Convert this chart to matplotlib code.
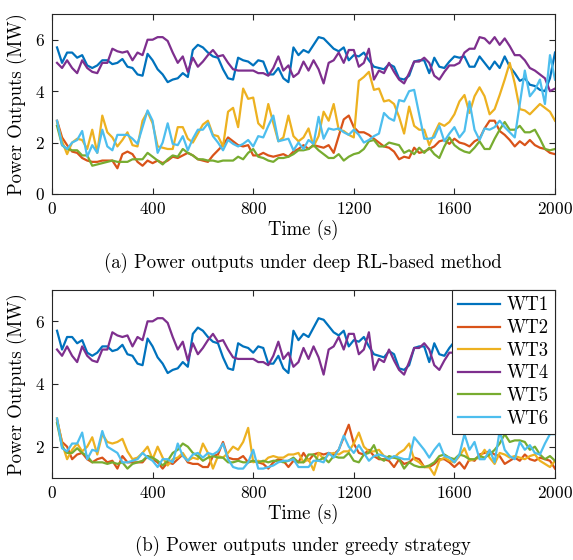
import numpy as np
import matplotlib
matplotlib.use("Agg")
import matplotlib.pyplot as plt

plt.rcParams['font.family'] = 'serif'
plt.rcParams['font.serif'] = ['cmr10', 'DejaVu Serif']
plt.rcParams['mathtext.fontset'] = 'cm'
plt.rcParams['axes.formatter.use_mathtext'] = True

time = np.arange(20, 2001, 20)

# ---- (a) deep RL-based method ----
wt1 = [5.7, 5.1, 5.5, 5.5, 5.3, 5.4, 5.0, 4.9, 5.0, 5.2, 5.2, 5.05, 5.1, 5.25, 4.95, 4.9, 4.65, 4.6, 5.45, 5.2,
       4.85, 4.65, 4.35, 4.45, 4.5, 4.7, 4.55, 5.6, 5.8, 5.7, 5.5, 5.35, 5.3, 4.85,
       4.5, 4.45, 5.3, 5.2, 5.15, 5.0, 5.2, 5.15, 4.65, 4.65, 4.9, 4.5, 4.35, 5.7, 5.4, 5.6,
       5.5, 5.8, 6.1, 6.05, 5.85, 5.65, 5.55, 5.7, 5.2, 5.4, 5.35, 5.5, 5.2, 4.95, 4.9, 4.85, 5.05,
       4.95, 4.5, 4.45, 4.6, 5.15, 5.2, 5.2, 4.7, 5.3, 4.95, 4.9, 5.15, 5.35, 5.3, 5.35, 4.95, 4.95, 5.35,
       5.1, 4.85, 5.15, 4.9, 5.35, 4.95, 4.7, 4.4, 4.5, 4.25, 4.2, 4.05, 4.0, 4.5, 5.5]
wt4 = [5.1, 4.9, 5.2, 4.9, 4.7, 5.2, 4.9, 4.75, 4.7, 5.1, 5.1, 5.65, 5.55, 5.5, 5.55, 5.2, 5.5, 5.4, 6.0, 6.0,
       6.1, 6.1, 5.95, 5.5, 5.1, 5.35, 4.75, 5.3, 4.95, 5.15, 5.4, 5.6, 5.35, 5.4,
       5.1, 4.85, 4.8, 4.8, 4.8, 4.8, 4.7, 4.7, 4.6, 4.9, 5.35, 4.8, 5.0, 4.55, 4.7, 5.15,
       4.8, 5.2, 4.85, 4.3, 5.1, 5.2, 5.5, 5.1, 5.6, 5.6, 4.95, 5.1, 5.65, 4.45, 4.8, 4.7, 5.1,
       4.75, 4.45, 4.3, 4.7, 5.15, 5.15, 5.3, 5.1, 4.6, 4.45, 4.75, 5.0, 5.0, 5.1, 5.5, 5.65, 5.65, 6.1,
       6.05, 5.85, 6.1, 5.8, 6.05, 5.75, 5.4, 5.4, 5.2, 4.9, 4.8, 4.65, 4.5, 4.0, 4.1]
wt2_a = [2.85, 2.2, 1.9, 1.65, 1.6, 1.4, 1.3, 1.25, 1.25, 1.3, 1.3, 1.3, 1.0, 1.55, 1.65, 1.55, 1.25, 1.1, 1.3, 1.2,
         1.3, 1.2, 1.3, 1.45, 1.4, 1.5, 1.6, 1.5, 1.35, 1.3, 1.25, 1.5, 1.7, 1.9,
         2.2, 2.05, 1.9, 1.85, 1.9, 1.5, 1.5, 1.6, 1.5, 1.45, 1.5, 1.55, 1.45, 1.65, 1.75, 1.9,
         1.75, 1.9, 1.85, 1.8, 1.9, 1.6, 2.25, 2.9, 3.05, 2.6, 2.4, 2.4, 2.3, 2.15, 2.0, 1.85, 1.8,
         1.65, 1.35, 1.45, 1.4, 1.8, 1.6, 1.65, 1.75, 1.85, 2.05, 2.1, 1.95, 2.15, 2.0, 1.95, 1.85, 2.05, 2.15,
         2.55, 2.85, 2.85, 2.45, 2.3, 2.1, 1.85, 2.05, 1.9, 2.1, 1.9, 1.8, 1.75, 1.6, 1.55]
wt3_a = [2.8, 2.05, 1.55, 2.0, 2.15, 2.1, 1.75, 2.5, 1.6, 3.05, 2.4, 2.2, 1.85, 2.1, 2.4, 1.9, 1.85, 2.85, 3.2, 2.75,
         1.85, 1.8, 1.75, 1.75, 2.6, 2.6, 2.15, 2.0, 2.35, 2.7, 2.85, 2.3, 2.25, 1.85,
         3.2, 3.35, 2.6, 4.1, 3.7, 3.75, 2.75, 2.55, 3.5, 2.75, 2.05, 2.2, 3.05, 2.25, 2.05, 2.2,
         2.55, 1.85, 2.25, 3.2, 2.85, 3.5, 2.5, 2.45, 2.3, 2.2, 4.4, 4.55, 4.75, 4.05, 4.1, 3.6, 3.65,
         3.5, 3.0, 2.35, 3.4, 2.65, 2.5, 2.5, 1.9, 2.35, 2.75, 2.65, 2.8, 3.1, 3.6, 3.85, 3.15, 3.8, 4.15,
         3.8, 3.1, 3.3, 3.85, 4.45, 5.1, 4.3, 3.3, 3.25, 3.1, 3.3, 3.5, 3.35, 3.2, 2.85]
wt5_a = [2.65, 1.9, 1.75, 1.7, 1.7, 1.5, 1.5, 1.1, 1.15, 1.2, 1.25, 1.3, 1.25, 1.25, 1.25, 1.35, 1.35, 1.35, 1.6, 1.45,
         1.3, 1.15, 1.35, 1.5, 1.45, 1.75, 1.6, 1.5, 1.35, 1.35, 1.3, 1.3, 1.25, 1.3,
         1.3, 1.3, 1.45, 1.35, 1.6, 1.75, 1.45, 1.4, 1.3, 1.25, 1.4, 1.4, 1.45, 1.55, 1.7, 1.7,
         1.75, 1.9, 1.7, 1.55, 1.4, 1.4, 1.55, 1.3, 1.45, 1.55, 1.6, 1.75, 2.05, 2.1, 1.85, 1.85, 2.0,
         1.95, 1.9, 1.6, 1.7, 1.55, 1.8, 1.6, 1.8, 1.55, 1.4, 1.85, 2.2, 1.9, 1.75, 1.65, 1.6, 1.8, 2.05,
         1.75, 1.75, 2.15, 2.5, 2.8, 2.5, 2.5, 2.65, 2.4, 2.4, 2.5, 2.15, 1.75, 1.7, 1.75]
wt6_a = [2.85, 1.9, 1.75, 2.0, 2.1, 2.45, 1.45, 1.9, 1.6, 2.5, 1.85, 1.7, 2.3, 2.3, 2.3, 2.15, 1.95, 2.6, 3.25, 2.85,
         1.6, 2.0, 2.75, 1.95, 1.9, 2.25, 1.7, 2.15, 2.5, 2.5, 2.75, 2.25, 2.0, 1.7,
         2.1, 1.95, 1.85, 1.95, 2.1, 1.85, 2.25, 2.2, 2.65, 3.05, 2.05, 2.1, 2.15, 1.7, 2.0, 1.75,
         2.1, 1.95, 3.0, 2.15, 2.55, 2.5, 2.55, 2.4, 2.3, 2.5, 2.3, 2.0, 2.1, 2.25, 2.35, 3.15, 2.95,
         2.85, 3.65, 3.6, 4.0, 4.05, 3.1, 2.15, 2.15, 2.2, 2.65, 2.05, 2.35, 2.6, 2.2, 2.45, 3.6, 2.5, 2.1,
         2.55, 2.5, 2.6, 2.85, 2.6, 2.4, 2.2, 3.5, 4.8, 3.8, 4.05, 4.45, 3.5, 5.4, 4.45]

# ---- (b) greedy strategy ----
wt2_b = [2.85, 2.15, 2.0, 1.6, 1.75, 1.8, 1.6, 1.5, 1.6, 1.65, 1.5, 1.55, 1.3, 1.7, 1.5, 1.5, 1.5, 1.5, 1.7, 1.6,
         1.5, 1.3, 1.5, 1.45, 1.6, 1.75, 1.5, 1.45, 1.45, 1.35, 1.35, 1.7, 1.75, 2.15,
         1.65, 1.6, 1.6, 1.7, 1.5, 1.55, 1.5, 1.45, 1.3, 1.5, 1.6, 1.55, 1.35, 1.55, 1.5, 1.8,
         1.55, 1.75, 1.8, 1.75, 1.8, 1.75, 1.9, 2.3, 2.7, 2.1, 1.8, 1.75, 1.9, 1.7, 1.6, 1.6, 1.55,
         1.35, 1.6, 1.45, 1.5, 1.65, 1.6, 1.35, 1.35, 1.45, 1.6, 1.6, 1.5, 1.35, 1.5, 1.3, 1.6, 1.55, 1.75,
         1.8, 1.85, 1.75, 1.7, 1.45, 1.55, 1.65, 1.55, 1.75, 1.6, 1.55, 1.65, 1.6, 1.55, 1.3]
wt3_b = [2.9, 2.1, 1.6, 1.9, 2.1, 1.85, 2.0, 2.3, 1.75, 2.4, 2.15, 2.1, 2.15, 2.25, 1.85, 1.6, 1.65, 1.8, 2.0, 1.6,
         2.0, 1.65, 1.4, 1.6, 1.65, 1.8, 1.55, 1.65, 1.6, 2.1, 1.8, 1.3, 1.7, 1.65,
         1.8, 2.0, 1.9, 2.15, 2.6, 1.5, 1.55, 1.5, 1.65, 1.7, 1.65, 1.65, 1.75, 1.75, 1.8, 1.5,
         1.6, 1.25, 1.8, 1.6, 1.75, 1.8, 1.75, 1.85, 1.85, 2.1, 2.45, 2.0, 1.85, 1.85, 1.9, 1.7, 1.65,
         1.65, 1.8, 1.9, 2.1, 1.6, 1.5, 1.35, 1.35, 1.1, 1.55, 1.65, 1.55, 1.5, 1.7, 1.95, 1.55, 1.6, 1.65,
         1.9, 1.65, 1.45, 1.8, 1.75, 1.65, 1.7, 1.65, 1.6, 1.7, 1.75, 1.55, 1.45, 1.35, 1.55]
wt5_b = [2.75, 2.0, 1.8, 1.8, 1.95, 1.8, 1.7, 1.5, 1.5, 1.5, 1.45, 1.5, 1.45, 1.5, 1.3, 1.45, 1.5, 1.55, 1.7, 1.65,
         1.55, 1.4, 1.55, 1.8, 1.9, 2.1, 2.0, 1.8, 1.7, 1.55, 1.65, 1.7, 1.65, 1.65,
         1.5, 1.5, 1.55, 1.5, 1.5, 1.55, 1.5, 1.55, 1.5, 1.55, 1.55, 1.5, 1.55, 1.65, 1.5, 1.5,
         1.75, 1.75, 1.55, 1.65, 1.5, 1.7, 1.65, 1.65, 1.8, 1.55, 1.5, 1.75, 1.8, 2.05, 1.65, 1.55, 1.7,
         1.65, 1.6, 1.3, 1.5, 1.4, 1.35, 1.35, 1.4, 1.5, 1.7, 1.75, 1.65, 1.6, 1.75, 1.7, 1.6, 1.6, 1.7,
         1.65, 1.75, 1.9, 2.1, 2.4, 2.15, 2.2, 2.2, 2.15, 1.9, 2.0, 1.75, 1.6, 1.7, 1.55]
wt6_b = [2.9, 1.95, 1.85, 2.1, 2.1, 2.45, 1.6, 1.9, 1.85, 2.5, 2.0, 1.9, 1.8, 1.5, 1.5, 1.55, 1.6, 1.8, 1.65, 1.55,
         1.35, 1.6, 1.6, 1.5, 2.1, 1.7, 1.55, 1.75, 1.8, 1.65, 1.8, 1.75, 1.85, 2.1,
         1.6, 1.35, 1.3, 1.3, 1.5, 1.9, 1.3, 1.3, 1.35, 1.4, 1.5, 1.55, 1.55, 1.6, 1.35, 1.35,
         1.35, 1.55, 1.55, 1.5, 1.8, 1.65, 1.9, 2.35, 2.0, 1.8, 2.05, 1.8, 1.55, 1.7, 1.75, 1.7, 1.6,
         1.7, 1.65, 1.6, 1.6, 2.3, 2.1, 1.9, 1.65, 1.9, 2.1, 1.7, 1.65, 1.5, 1.75, 2.4, 1.9, 2.15, 1.6,
         1.6, 1.9, 1.5, 2.5, 1.9, 1.7, 1.6, 2.15, 1.9, 2.05, 1.8, 1.75, 2.1, 2.4, 2.4]

labels = ['WT1', 'WT2', 'WT3', 'WT4', 'WT5', 'WT6']
colors = ['#0072BD', '#D95319', '#EDB120', '#7E2F8E', '#77AC30', '#4DBEEE']
xticks = [0, 400, 800, 1200, 1600, 2000]

W, H = 573, 560
fig = plt.figure(figsize=(W / 100, H / 100), dpi=100)

def px_axes(l, t, r, b):
    return fig.add_axes([l / W, 1 - b / H, (r - l) / W, (b - t) / H])

ax1 = px_axes(52, 14, 555, 194)
ax2 = px_axes(52, 290, 555, 478)

series_a = [wt1, wt2_a, wt3_a, wt4, wt5_a, wt6_a]
series_b = [wt1, wt2_b, wt3_b, wt4, wt5_b, wt6_b]

fs = 12.5
for ax, series, ylim, yt in [(ax1, series_a, (0, 7), [0, 2, 4, 6]),
                             (ax2, series_b, (1, 7), [2, 4, 6])]:
    for s, c, lab in zip(series, colors, labels):
        ax.plot(time, s, color=c, lw=1.6, label=lab)
    ax.set_xlim(0, 2000)
    ax.set_ylim(*ylim)
    ax.set_xticks(xticks)
    ax.set_yticks(yt)
    ax.tick_params(direction='in', top=True, right=True, length=4, width=0.8,
                   labelsize=fs, color='#262626', pad=5)
    for sp in ax.spines.values():
        sp.set_color('#262626')
        sp.set_linewidth(0.8)
    ax.set_xlabel('Time (s)', fontsize=fs + 1, labelpad=2)
    ax.set_ylabel('Power Outputs (MW)', fontsize=fs + 1, labelpad=6)

leg = ax2.legend(loc='upper right', fontsize=fs + 1, frameon=True, fancybox=False,
                 framealpha=1, borderaxespad=0, handlelength=2.2, labelspacing=0.25,
                 borderpad=0.35, handletextpad=0.35)
leg.get_frame().set_edgecolor('#262626')
leg.get_frame().set_linewidth(0.8)

fig.text(303 / W, 1 - 263 / H, '(a) Power outputs under deep RL-based method',
         ha='center', va='center', fontsize=fs + 1)
fig.text(303 / W, 1 - 546 / H, '(b) Power outputs under greedy strategy',
         ha='center', va='center', fontsize=fs + 1)

fig.savefig('out.png', dpi=100)
